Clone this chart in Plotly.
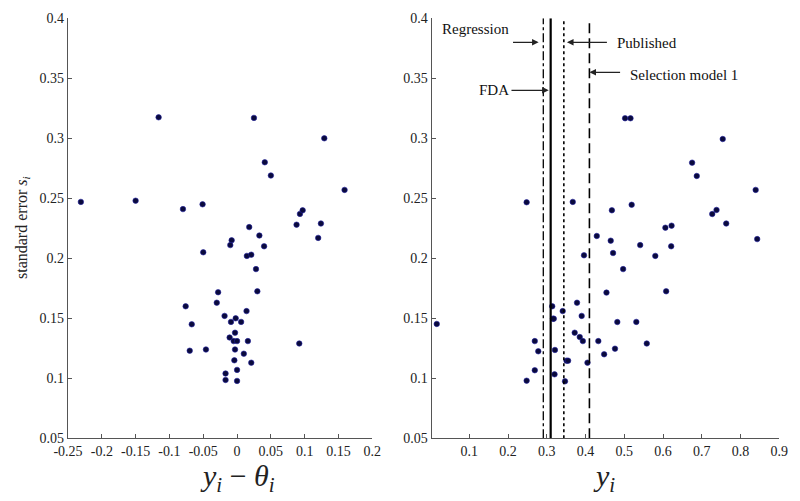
import plotly.graph_objects as go

# left panel: y_i - theta_i vs standard error
resid = [-0.231, -0.150, -0.116, -0.080, -0.051, 0.025, 0.041, 0.050, 0.129, 0.159,
         0.018, 0.033, 0.040, -0.008, -0.010, 0.088, 0.093, 0.097, 0.124, 0.120,
         -0.050, 0.0145, 0.021, 0.028, 0.030, -0.028, -0.030, -0.076, -0.067, -0.0185,
         -0.002, -0.009, 0.006, 0.014, -0.003, -0.011, -0.005, 0.000, 0.016, 0.092,
         -0.070, -0.046, -0.003, 0.010, -0.004, 0.021, 0.000, -0.017, -0.017, 0.000]
se_left = [0.247, 0.248, 0.3175, 0.241, 0.245, 0.317, 0.280, 0.269, 0.300, 0.257,
           0.226, 0.219, 0.210, 0.215, 0.211, 0.228, 0.237, 0.240, 0.229, 0.217,
           0.205, 0.202, 0.203, 0.191, 0.1725, 0.1717, 0.163, 0.160, 0.145, 0.152,
           0.150, 0.147, 0.147, 0.156, 0.138, 0.134, 0.131, 0.131, 0.131, 0.129,
           0.123, 0.124, 0.124, 0.1205, 0.115, 0.113, 0.107, 0.104, 0.0986, 0.0978]

# right panel: y_i vs standard error
y_obs = [0.248, 0.367, 0.502, 0.516, 0.468, 0.519, 0.675, 0.687, 0.754, 0.839,
         0.727, 0.738, 0.763, 0.606, 0.622, 0.843, 0.429, 0.465, 0.541, 0.621,
         0.396, 0.471, 0.580, 0.497, 0.454, 0.608, 0.314, 0.378, 0.316, 0.318,
         0.341, 0.390, 0.482, 0.531, 0.016, 0.372, 0.385, 0.393, 0.433, 0.558,
         0.269, 0.278, 0.321, 0.476, 0.448, 0.351, 0.355, 0.405, 0.269, 0.320,
         0.248, 0.347]
se_right = [0.2467, 0.247, 0.3167, 0.3167, 0.240, 0.2446, 0.2797, 0.2686, 0.2994, 0.257,
            0.2369, 0.2403, 0.229, 0.2255, 0.2272, 0.216, 0.2186, 0.2147, 0.211, 0.210,
            0.2025, 0.2044, 0.202, 0.191, 0.1714, 0.1725, 0.160, 0.163, 0.1497, 0.1497,
            0.156, 0.152, 0.1469, 0.147, 0.1453, 0.138, 0.1344, 0.131, 0.131, 0.129,
            0.131, 0.1225, 0.1236, 0.1247, 0.120, 0.1147, 0.1147, 0.113, 0.1067, 0.1033,
            0.098, 0.0975]

# pooled estimates drawn as vertical lines
methods = ['Regression', 'FDA', 'Published', 'Selection model 1']
estimates = [0.291, 0.310, 0.344, 0.410]
dashes = ['dashdot', 'solid', 'dot', '10px,5px']
widths = [1.3, 2.2, 1.6, 1.6]

serif = 'Liberation Serif'
tickfont = dict(family=serif, size=14, color='#222')

W, H = 800, 501
OFF = 8  # default body margin of the html page


def px(x):
    return (x - OFF) / W


def py(y):
    return 1 - (y - OFF) / H


fig = go.Figure()

fig.add_trace(go.Scatter(
    x=resid, y=se_left, mode='markers',
    marker=dict(color='#0a0a3c', size=5.5, line=dict(color='#2020a0', width=0.6)),
    xaxis='x', yaxis='y', showlegend=False,
))
fig.add_trace(go.Scatter(
    x=y_obs, y=se_right, mode='markers',
    marker=dict(color='#0a0a3c', size=5.5, line=dict(color='#2020a0', width=0.6)),
    xaxis='x2', yaxis='y2', showlegend=False,
))
for m, e, d, w in zip(methods, estimates, dashes, widths):
    fig.add_trace(go.Scatter(
        x=[e, e], y=[0.05, 0.4], mode='lines',
        line=dict(color='black', dash=d, width=w),
        xaxis='x2', yaxis='y2', showlegend=False, name=m,
    ))

axis_common = dict(
    showline=True, linecolor='#555', linewidth=1.3, mirror=False,
    ticks='inside', ticklen=4, tickcolor='#555', automargin=False,
    showgrid=False, zeroline=False, tickfont=tickfont,
)
ydomain = [py(438.3), py(18.3)]
yticks = [0.05, 0.1, 0.15, 0.2, 0.25, 0.3, 0.35, 0.4]
ylabels = ['0.05', '0.1', '0.15', '0.2', '0.25', '0.3', '0.35', '0.4']

fig.update_layout(
    width=W, height=H,
    margin=dict(l=0, r=0, t=0, b=0),
    paper_bgcolor='white', plot_bgcolor='white',
    xaxis=dict(domain=[px(68), px(372.3)], range=[-0.25, 0.2],
               tickvals=[-0.25, -0.2, -0.15, -0.1, -0.05, 0, 0.05, 0.1, 0.15, 0.2],
               ticktext=['-0.25', '-0.2', '-0.15', '-0.1', '-0.05', '0', '0.05', '0.1', '0.15', '0.2'],
               anchor='y', **axis_common),
    yaxis=dict(domain=ydomain, range=[0.05, 0.4], tickvals=yticks, ticktext=ylabels,
               anchor='x', **axis_common),
    xaxis2=dict(domain=[px(431.7), px(779.3)], range=[0.003, 0.9],
                tickvals=[0.1, 0.2, 0.3, 0.4, 0.5, 0.6, 0.7, 0.8, 0.9],
                ticktext=['0.1', '0.2', '0.3', '0.4', '0.5', '0.6', '0.7', '0.8', '0.9'],
                anchor='y2', **axis_common),
    yaxis2=dict(domain=ydomain, range=[0.05, 0.4], tickvals=yticks, ticktext=ylabels,
                anchor='x2', **axis_common),
)

# axis titles
fig.add_annotation(text='standard error <i>s<sub>i</sub></i>', xref='paper', yref='paper',
                   x=px(22), y=py(228), xanchor='center', yanchor='middle',
                   textangle=-90, showarrow=False,
                   font=dict(family=serif, size=16, color='#222'))
fig.add_annotation(text='<i>y<sub>i</sub></i> − <i>θ<sub>i</sub></i>', xref='paper', yref='paper',
                   x=px(237), y=py(478), xanchor='center', yanchor='middle', showarrow=False,
                   font=dict(family=serif, size=30, color='#222'))
fig.add_annotation(text='<i>y<sub>i</sub></i>', xref='paper', yref='paper',
                   x=px(604), y=py(478), xanchor='center', yanchor='middle', showarrow=False,
                   font=dict(family=serif, size=30, color='#222'))

# labels with arrows pointing at the lines
lab_font = dict(family=serif, size=15, color='#111')
labels = [
    # text, text x, text y, anchor, arrow tail x, arrow y, head offset
    ('Regression', 0.117, 0.391, 'center', 0.209, 0.380, -0.012),
    ('FDA', 0.163, 0.340, 'center', 0.205, 0.340, -0.005),
    ('Published', 0.475, 0.379, 'left', 0.459, 0.380, 0.008),
    ('Selection model 1', 0.510, 0.353, 'left', 0.493, 0.355, 0.0),
]
for (txt, tx, ty, anc, ax, ay, off), e in zip(labels, estimates):
    fig.add_annotation(text=txt, x=tx, y=ty, xref='x2', yref='y2', xanchor=anc,
                       showarrow=False, font=lab_font)
    fig.add_annotation(text='', x=e + off, y=ay, ax=ax, ay=ay, xref='x2', yref='y2',
                       axref='x2', ayref='y2', showarrow=True, arrowhead=2,
                       arrowsize=1.1, arrowwidth=1.2, arrowcolor='#222')

fig.write_html("out.html")
